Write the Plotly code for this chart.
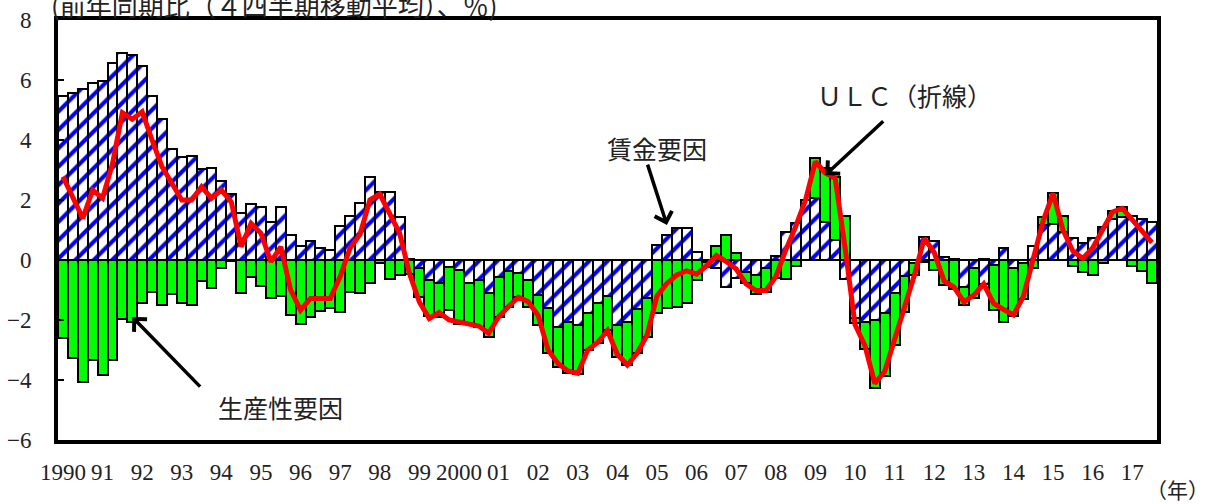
import plotly.graph_objects as go

# Quarterly series, 1990Q1 - 2017Q3 (four-quarter moving average, y/y %)
years = list(range(1990, 2018))
quarters = [f"{y}Q{q}" for y in years for q in range(1, 5)][:111]

year_labels = ["1990", "91", "92", "93", "94", "95", "96", "97", "98", "99",
               "2000", "01", "02", "03", "04", "05", "06", "07", "08", "09",
               "10", "11", "12", "13", "14", "15", "16", "17"]

# wage factor (hatched bars)
wage = [
    5.47, 5.56, 5.69, 5.91, 5.97, 6.56, 6.89, 6.83, 6.47, 5.47,
    4.69, 3.69, 3.42, 3.48, 3.02, 3.06, 2.63, 2.21, 1.56, 1.86,
    1.76, 1.28, 1.76, 0.83, 0.47, 0.64, 0.41, 0.33, 1.13, 1.48,
    1.91, 2.78, 2.28, 2.28, 1.42, 0.05, -0.28, -0.67, -0.78, -0.22,
    -0.33, -0.78, -0.67, -1.09, -0.58, -0.36, -0.44, -0.67, -1.17, -1.61,
    -2.22, -2.06, -2.17, -1.78, -1.44, -1.20, -2.17, -2.06, -1.64, -1.28,
    0.50, 0.83, 1.06, 1.06, 0.28, -0.05, -0.28, -0.89, -0.61, -0.40,
    -0.50, -0.28, 0.14, 0.94, 1.22, 2.00, 2.06, 1.28, 0.67, -0.64,
    -1.94, -2.06, -2.00, -1.76, -1.09, -0.53, -0.10, 0.78, 0.64, 0.10,
    0.05, -0.89, -0.28, -0.80, -0.17, 0.41, -0.28, -0.10, 0.47, 1.17,
    1.20, 0.94, 0.72, 0.56, 0.72, 1.09, 1.36, 1.44, 1.47, 1.36,
    1.27,
]

# productivity factor (green bars)
productivity = [
    -2.61, -3.28, -4.06, -3.33, -3.83, -3.33, -1.98, -2.06, -1.42, -1.06,
    -1.50, -1.13, -1.42, -1.50, -0.69, -0.92, -0.28, -0.03, -1.09, -0.56,
    -0.86, -1.28, -1.20, -1.83, -2.13, -1.91, -1.70, -1.61, -1.72, -1.06,
    -1.09, -0.78, -0.10, -0.64, -0.50, -0.45, -0.94, -1.20, -1.11, -1.45,
    -1.80, -1.35, -1.55, -1.47, -1.31, -1.22, -0.78, -0.91, -1.00, -1.50,
    -1.33, -1.72, -1.63, -1.22, -1.33, -1.13, -1.06, -1.44, -1.47, -1.28,
    -1.78, -1.61, -1.56, -1.42, -0.67, -0.17, 0.47, 0.83, 0.24, -0.35,
    -0.63, -0.78, -0.61, -0.64, -0.20, 0.00, 1.35, 1.78, 2.11, 1.47,
    -0.17, -0.89, -2.28, -2.11, -1.74, -1.19, -0.40, -0.05, -0.33, -0.83,
    -0.95, -0.60, -1.00, 0.05, -1.48, -2.06, -1.59, -1.20, -0.28, 0.28,
    1.04, 0.52, -0.20, -0.39, -0.50, -0.10, 0.29, 0.33, -0.20, -0.36,
    -0.78,
]

# unit labour cost (line)
ulc = [
    2.78, 2.10, 1.39, 2.33, 2.06, 3.20, 4.91, 4.69, 4.94, 4.00,
    3.11, 2.56, 2.00, 2.00, 2.44, 2.06, 2.33, 1.94, 0.44, 1.22,
    0.89, -0.06, 0.44, -1.00, -1.67, -1.28, -1.29, -1.28, -0.55, 0.40,
    0.85, 2.00, 2.20, 1.58, 0.90, -0.45, -1.40, -1.95, -1.75, -2.00,
    -2.06, -2.12, -2.20, -2.44, -1.90, -1.55, -1.24, -1.39, -1.85, -3.00,
    -3.45, -3.70, -3.78, -3.00, -2.75, -2.35, -3.15, -3.50, -3.10, -2.50,
    -1.20, -0.78, -0.50, -0.36, -0.47, -0.20, 0.15, -0.05, -0.30, -0.80,
    -1.02, -1.02, -0.56, 0.33, 1.11, 2.00, 3.28, 2.90, 2.72, 0.40,
    -2.15, -2.85, -4.11, -3.72, -2.67, -1.60, -0.50, 0.72, 0.25, -0.70,
    -0.90, -1.40, -1.17, -0.80, -1.45, -1.65, -1.83, -1.22, 0.00, 1.30,
    2.22, 1.00, 0.30, 0.05, 0.40, 1.00, 1.60, 1.72, 1.33, 0.95,
    0.58,
]

serif = "Liberation Serif"
jp = "Noto Sans CJK JP"
ink = "#222222"

fig = go.Figure()

fig.add_trace(go.Bar(
    x=quarters, y=wage, name="賃金要因",
    marker=dict(
        color="white",
        line=dict(color="black", width=2),
        pattern=dict(shape="/", fgcolor="#0000ff", bgcolor="white",
                     size=13, solidity=0.32, fillmode="replace"),
    ),
))
fig.add_trace(go.Bar(
    x=quarters, y=productivity, name="生産性要因",
    marker=dict(color="#00ff00", line=dict(color="black", width=2)),
))
fig.add_trace(go.Scatter(
    x=quarters, y=ulc, name="ULC", mode="lines",
    line=dict(color="#ff0000", width=5),
))

tickvals = [f"{y}Q1" for y in years]

fig.update_layout(
    width=1206, height=504,
    margin=dict(l=58, r=49, t=20, b=64),
    barmode="relative", bargap=0,
    plot_bgcolor="white", paper_bgcolor="white",
    showlegend=False,
    font=dict(family=serif, size=23, color=ink),
)

fig.update_xaxes(
    type="category",
    range=[-0.5, len(quarters) - 0.5],
    tickvals=tickvals, ticktext=year_labels,
    tickangle=0, automargin=False,
    ticks="", showgrid=False,
    showline=True, linewidth=4, linecolor="black", mirror=True,
    tickfont=dict(family=serif, size=23, color=ink),
    ticklabelstandoff=8,
)
fig.update_yaxes(
    range=[-6, 8], dtick=2, automargin=False,
    ticks="inside", ticklen=6, tickwidth=2, tickcolor="black",
    showgrid=False,
    showline=True, linewidth=4, linecolor="black", mirror=True,
    zeroline=True, zerolinewidth=2, zerolinecolor="black",
    tickfont=dict(family=serif, size=23, color=ink),
    ticklabelstandoff=18,
)

# header note
fig.add_annotation(
    text="(前年同期比（４四半期移動平均）、％)",
    xref="paper", yref="paper", x=-0.008, y=1.037,
    xanchor="left", yanchor="middle", showarrow=False,
    font=dict(family=jp, size=26, color=ink),
)
# unit label
fig.add_annotation(
    text="（年）",
    xref="paper", yref="paper", x=1.019, y=-0.117,
    xanchor="center", yanchor="middle", showarrow=False,
    font=dict(family=jp, size=21, color=ink),
)

# callouts
callouts = [
    ("生産性要因", "1995Q3", -4.9, "1993Q3", -4.27, "1991Q4", -1.9),
    ("賃金要因", "2005Q1", 3.73, "2004Q4", 3.23, "2005Q2", 1.17),
    ("ＵＬＣ（折線）", "2011Q2", 5.5, "2010Q4", 4.67, "2009Q2", 2.83),
]
for text, tx, ty, ax, ay, hx, hy in callouts:
    fig.add_annotation(
        text=text, x=tx, y=ty, xref="x", yref="y", showarrow=False,
        font=dict(family=jp, size=25, color=ink),
    )
    fig.add_annotation(
        text="", x=hx, y=hy, ax=ax, ay=ay,
        xref="x", yref="y", axref="x", ayref="y",
        showarrow=True, arrowhead=4, arrowsize=1, arrowwidth=3.5,
        arrowcolor="black",
    )

fig.write_html("out.html")
